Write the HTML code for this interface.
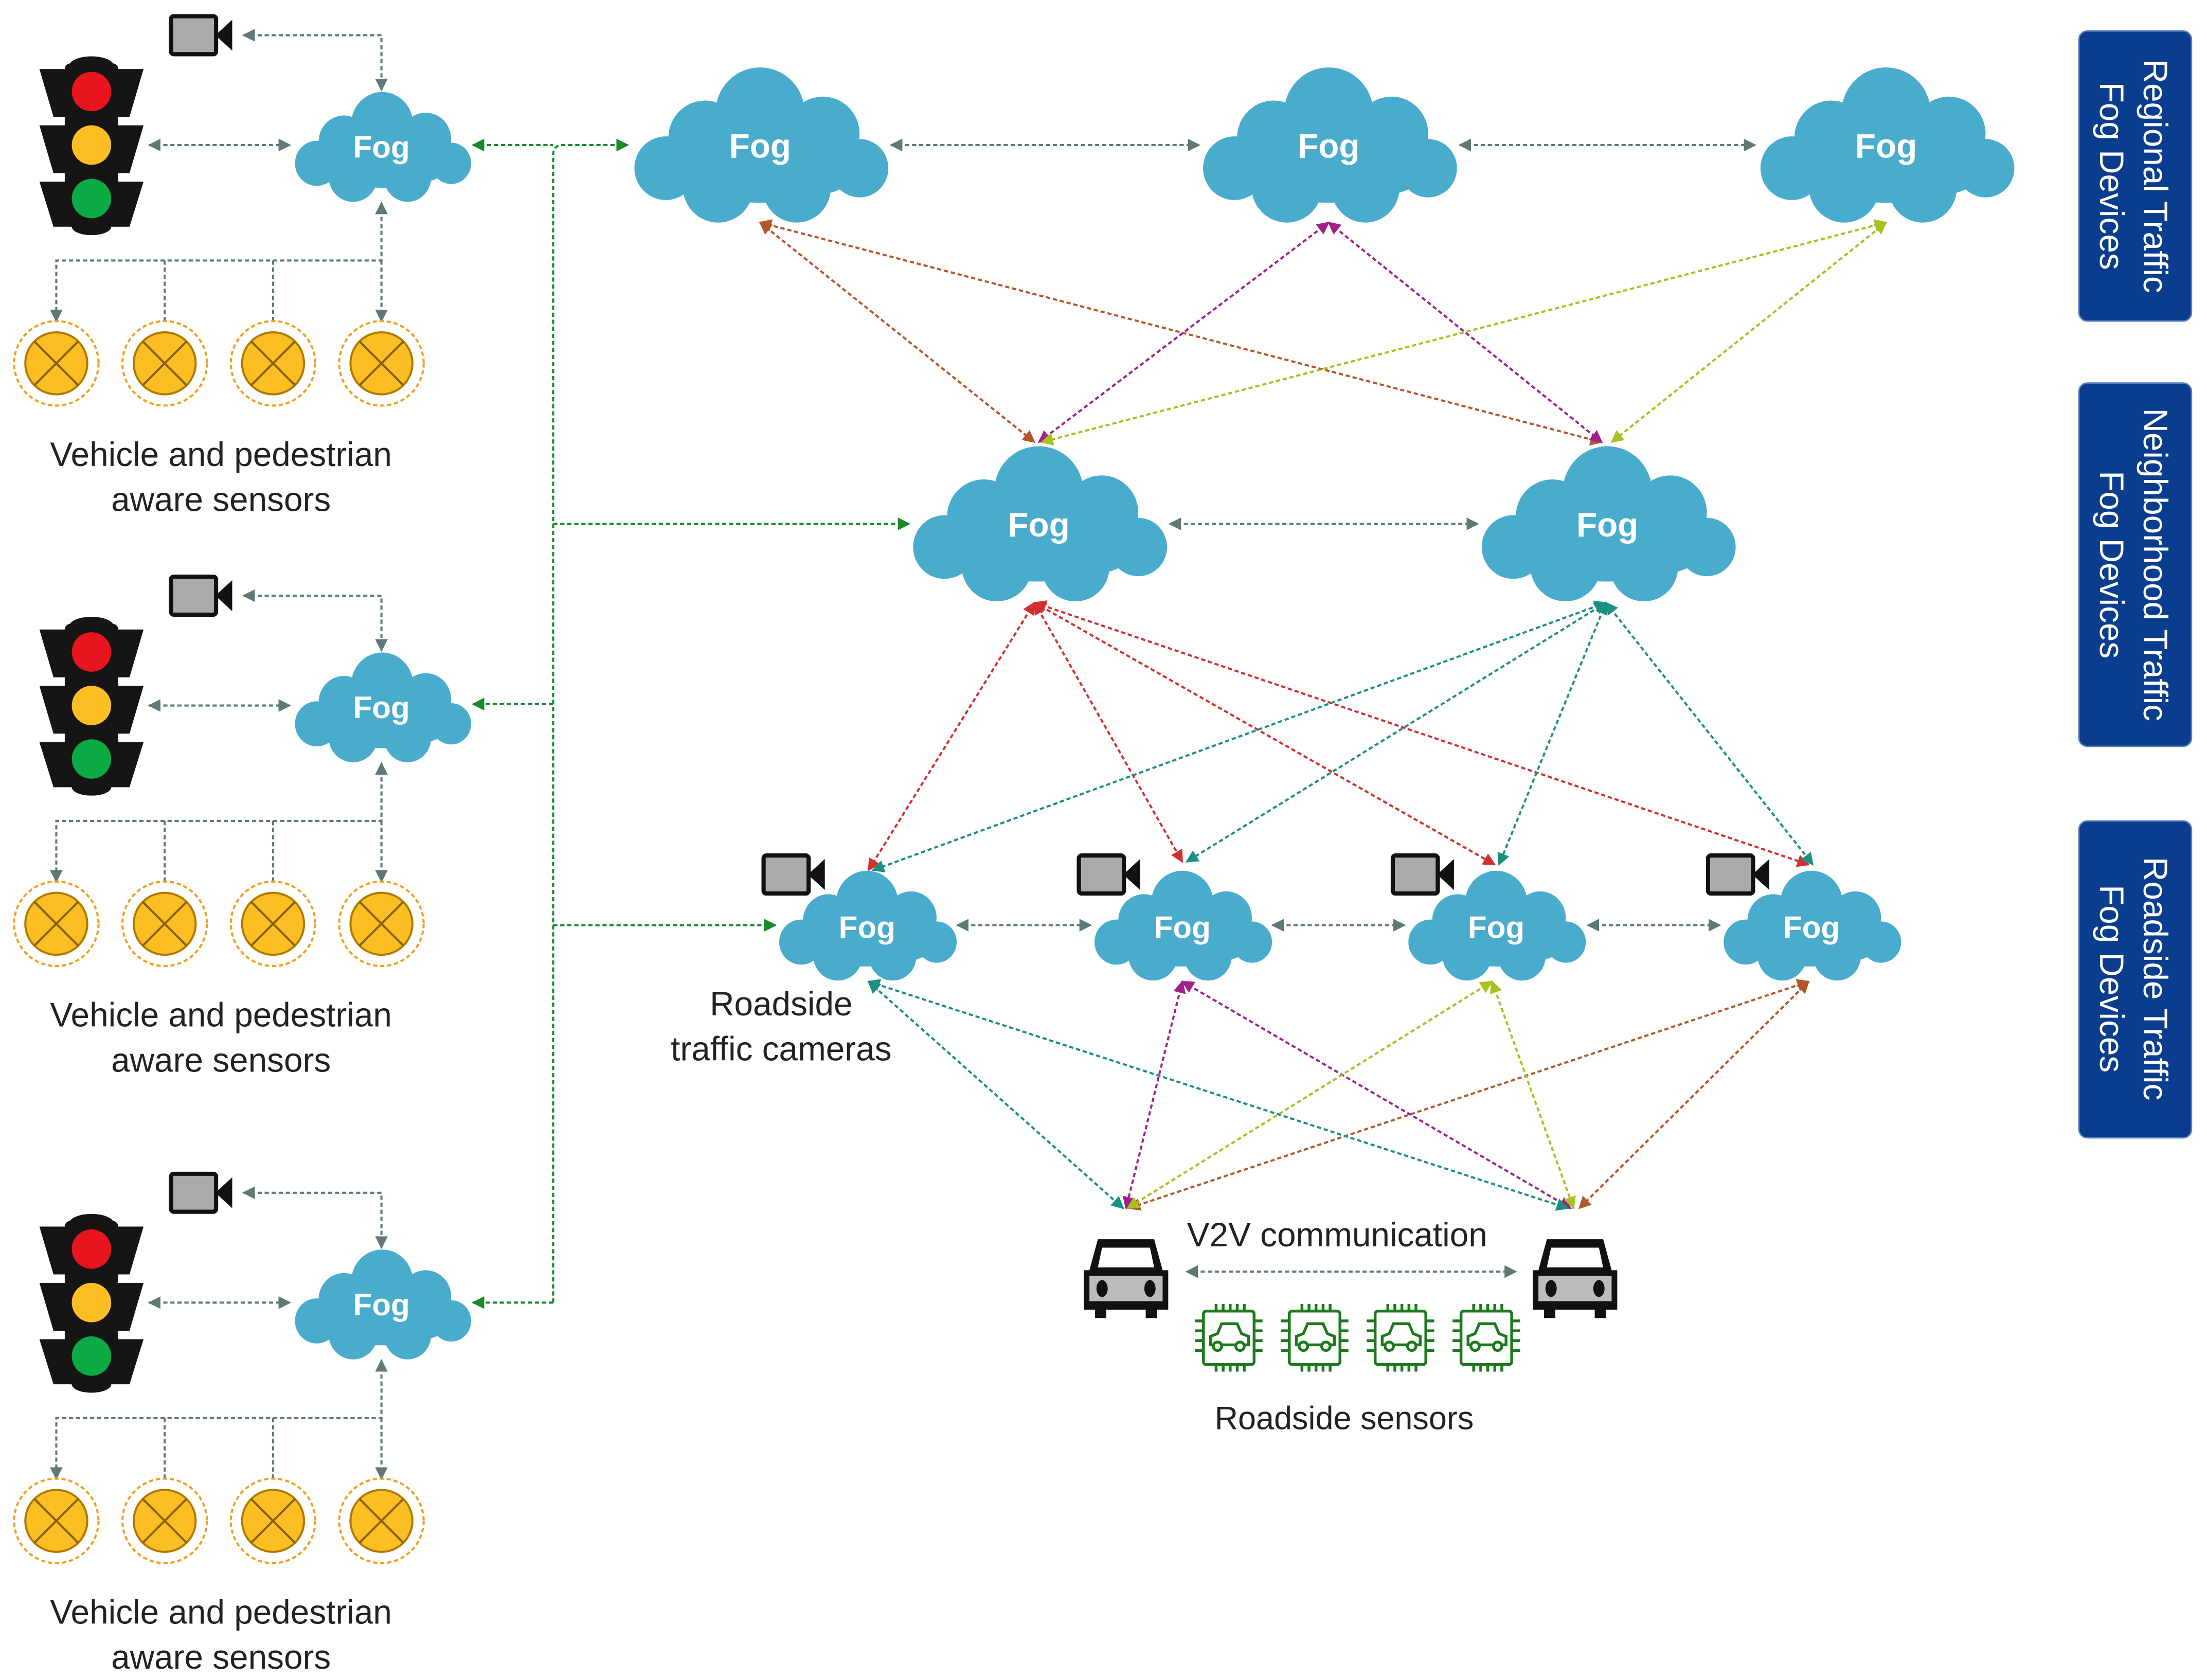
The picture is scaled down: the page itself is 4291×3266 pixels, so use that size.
<!DOCTYPE html>
<html><head><meta charset="utf-8"><style>html,body{margin:0;padding:0;background:#fff}svg{display:block}</style></head>
<body>
<svg width="4291" height="3266" viewBox="0 0 1568 1193" preserveAspectRatio="none" xmlns="http://www.w3.org/2000/svg" font-family="Liberation Sans, sans-serif">
<defs>
<symbol id="cloud" viewBox="0 0 200 120" preserveAspectRatio="none">
<g fill="#4aaccd">
<circle cx="100" cy="36" r="34"/><circle cx="58" cy="55" r="28"/><circle cx="148" cy="52" r="28"/>
<circle cx="28" cy="78" r="24"/><circle cx="176" cy="78" r="22"/><circle cx="68" cy="92" r="27"/>
<circle cx="128" cy="93" r="26"/><ellipse cx="100" cy="72" rx="84" ry="32"/></g>
</symbol>
<symbol id="cam" viewBox="0 0 46 30">
<rect x="1.5" y="1.5" width="32" height="27" rx="2" fill="#aaa" stroke="#111" stroke-width="3"/>
<polygon points="33,15 45,4 45,26" fill="#111"/>
</symbol>
<symbol id="tl" viewBox="0 0 74 128">
<g fill="#151515">
<polygon points="0,10 74,10 64,44 10,44"/><polygon points="0,50 74,50 64,84 10,84"/><polygon points="0,90 74,90 64,122 10,122"/>
<rect x="18" y="6" width="38" height="116" rx="4"/><ellipse cx="37" cy="8" rx="16" ry="7"/><ellipse cx="37" cy="122" rx="14" ry="6"/></g>
<circle cx="37" cy="26" r="14" fill="#e8141e"/><circle cx="37" cy="64" r="14" fill="#fbbf24"/><circle cx="37" cy="102" r="14" fill="#0aaa44"/>
</symbol>
<symbol id="sen" viewBox="0 0 64 64">
<circle cx="32" cy="32" r="30" fill="none" stroke="#f0a020" stroke-width="1.5" stroke-dasharray="3 2"/>
<circle cx="32" cy="32" r="22" fill="#fbbf24" stroke="#b07a00" stroke-width="1.5"/>
<path d="M16.5 16.5L47.5 47.5M47.5 16.5L16.5 47.5" stroke="#8a5f00" stroke-width="1.5"/>
</symbol>
<symbol id="car" viewBox="0 0 64 58">
<path d="M12 2H52L58 24H62V52H54V58H46V52H18V58H10V52H2V24H6Z" fill="#111"/>
<path d="M15 8H49L52 22H12Z" fill="#fff"/>
<rect x="6" y="28" width="52" height="18" fill="#bbb"/>
<ellipse cx="15" cy="37" rx="4" ry="6" fill="#111"/><ellipse cx="49" cy="37" rx="4" ry="6" fill="#111"/>
</symbol>
<symbol id="chip" viewBox="0 0 50 50">
<g stroke="#1c7a1c" stroke-width="2" fill="none">
<rect x="7" y="6" width="36" height="38" rx="2"/>
<path d="M16 1V6M21 1V6M26 1V6M31 1V6M36 1V6M16 44V49M21 44V49M26 44V49M31 44V49M36 44V49M1 13H7M1 20H7M1 27H7M1 34H7M43 13H49M43 20H49M43 27H49M43 34H49"/>
<path d="M12 30V24L17 22L20 15H31L34 22L39 24V30Z"/><circle cx="17" cy="31" r="3" fill="#fff"/><circle cx="33" cy="31" r="3" fill="#fff"/>
</g></symbol>
<marker id="mg" viewBox="0 0 10 10" refX="9" refY="5" markerWidth="9" markerHeight="9" markerUnits="userSpaceOnUse" orient="auto-start-reverse"><path d="M0 0L10 5L0 10Z" fill="#5f7878"/></marker>
<marker id="mG" viewBox="0 0 10 10" refX="9" refY="5" markerWidth="9" markerHeight="9" markerUnits="userSpaceOnUse" orient="auto-start-reverse"><path d="M0 0L10 5L0 10Z" fill="#178a2a"/></marker>
<marker id="mb" viewBox="0 0 10 10" refX="9" refY="5" markerWidth="9" markerHeight="9" markerUnits="userSpaceOnUse" orient="auto-start-reverse"><path d="M0 0L10 5L0 10Z" fill="#b5562a"/></marker>
<marker id="mm" viewBox="0 0 10 10" refX="9" refY="5" markerWidth="9" markerHeight="9" markerUnits="userSpaceOnUse" orient="auto-start-reverse"><path d="M0 0L10 5L0 10Z" fill="#a0208c"/></marker>
<marker id="my" viewBox="0 0 10 10" refX="9" refY="5" markerWidth="9" markerHeight="9" markerUnits="userSpaceOnUse" orient="auto-start-reverse"><path d="M0 0L10 5L0 10Z" fill="#a8c020"/></marker>
<marker id="mr" viewBox="0 0 10 10" refX="9" refY="5" markerWidth="9" markerHeight="9" markerUnits="userSpaceOnUse" orient="auto-start-reverse"><path d="M0 0L10 5L0 10Z" fill="#d03030"/></marker>
<marker id="mt" viewBox="0 0 10 10" refX="9" refY="5" markerWidth="9" markerHeight="9" markerUnits="userSpaceOnUse" orient="auto-start-reverse"><path d="M0 0L10 5L0 10Z" fill="#1a9080"/></marker>
<g id="grp">
<use href="#cam" x="120" y="10" width="46" height="30"/>
<use href="#tl" x="28" y="39" width="74" height="128"/>
<g stroke="#5f7878" stroke-width="1.5" stroke-dasharray="3 2" fill="none">
<path d="M173 25H271V64" marker-start="url(#mg)" marker-end="url(#mg)"/>
<path d="M106 103H206" marker-start="url(#mg)" marker-end="url(#mg)"/>
<path d="M271 144V185H40V228" marker-start="url(#mg)" marker-end="url(#mg)"/>
<path d="M117 185V228M194 185V228M271 185V228" marker-end="url(#mg)"/>
</g>
<use href="#cloud" x="207" y="64" width="129" height="80"/>
<text x="271" y="112" font-size="22" font-weight="bold" fill="#fff" text-anchor="middle">Fog</text>
<use href="#sen" x="8" y="226" width="64" height="64"/><use href="#sen" x="85" y="226" width="64" height="64"/>
<use href="#sen" x="162" y="226" width="64" height="64"/><use href="#sen" x="239" y="226" width="64" height="64"/>
<text x="157" y="331" font-size="24" fill="#222" text-anchor="middle">Vehicle and pedestrian</text>
<text x="157" y="363" font-size="24" fill="#222" text-anchor="middle">aware sensors</text>
</g>
</defs>

<use href="#grp"/><use href="#grp" y="398"/><use href="#grp" y="822"/>

<g stroke="#178a2a" stroke-width="1.5" stroke-dasharray="3 2" fill="none">
<path d="M336 103H393" marker-start="url(#mG)"/>
<path d="M393 925V110Q393 103 400 103H446" marker-end="url(#mG)"/>
<path d="M393 500H336" marker-end="url(#mG)"/>
<path d="M393 925H336" marker-end="url(#mG)"/>
<path d="M393 372H646" marker-end="url(#mG)"/>
<path d="M393 657H551" marker-end="url(#mG)"/>
</g>

<g stroke="#5f7878" stroke-width="1.5" stroke-dasharray="3 2" fill="none">
<path d="M633 103H852" marker-start="url(#mg)" marker-end="url(#mg)"/>
<path d="M1037 103H1247" marker-start="url(#mg)" marker-end="url(#mg)"/>
<path d="M831 372H1050" marker-start="url(#mg)" marker-end="url(#mg)"/>
<path d="M680 657H775" marker-start="url(#mg)" marker-end="url(#mg)"/>
<path d="M904 657H998" marker-start="url(#mg)" marker-end="url(#mg)"/>
<path d="M1128 657H1222" marker-start="url(#mg)" marker-end="url(#mg)"/>
<path d="M843 903H1077" marker-start="url(#mg)" marker-end="url(#mg)"/>
</g>

<g stroke-width="1.5" stroke-dasharray="3 2" fill="none">
<g stroke="#b5562a"><path d="M540 158L735 314" marker-start="url(#mb)" marker-end="url(#mb)"/><path d="M540 158L1138 314" marker-start="url(#mb)" marker-end="url(#mb)"/>
<path d="M1285 697L802 858" marker-start="url(#mb)" marker-end="url(#mb)"/><path d="M1285 697L1122 858" marker-start="url(#mb)" marker-end="url(#mb)"/></g>
<g stroke="#a0208c"><path d="M944 158L738 314" marker-start="url(#mm)" marker-end="url(#mm)"/><path d="M944 158L1138 314" marker-start="url(#mm)" marker-end="url(#mm)"/>
<path d="M840 697L800 858" marker-start="url(#mm)" marker-end="url(#mm)"/><path d="M840 697L1116 858" marker-start="url(#mm)" marker-end="url(#mm)"/></g>
<g stroke="#a8c020"><path d="M1340 158L740 314" marker-start="url(#my)" marker-end="url(#my)"/><path d="M1340 158L1145 314" marker-start="url(#my)" marker-end="url(#my)"/>
<path d="M1060 697L801 858" marker-start="url(#my)" marker-end="url(#my)"/><path d="M1060 697L1118 858" marker-start="url(#my)" marker-end="url(#my)"/></g>
<g stroke="#d03030"><path d="M735 428L617 618" marker-start="url(#mr)" marker-end="url(#mr)"/><path d="M735 428L840 612" marker-start="url(#mr)" marker-end="url(#mr)"/>
<path d="M735 428L1062 614" marker-start="url(#mr)" marker-end="url(#mr)"/><path d="M735 428L1285 614" marker-start="url(#mr)" marker-end="url(#mr)"/></g>
<g stroke="#1a9080"><path d="M1141 428L620 618" marker-start="url(#mt)" marker-end="url(#mt)"/><path d="M1141 428L843 612" marker-start="url(#mt)" marker-end="url(#mt)"/>
<path d="M1141 428L1065 614" marker-start="url(#mt)" marker-end="url(#mt)"/><path d="M1141 428L1288 614" marker-start="url(#mt)" marker-end="url(#mt)"/>
<path d="M617 697L798 858" marker-start="url(#mt)" marker-end="url(#mt)"/><path d="M617 697L1114 858" marker-start="url(#mt)" marker-end="url(#mt)"/></g>
</g>

<g font-size="24" font-weight="bold" fill="#fff" text-anchor="middle">
<use href="#cloud" x="447" y="46" width="186" height="113"/><text x="540" y="112">Fog</text>
<use href="#cloud" x="851" y="46" width="186" height="113"/><text x="944" y="112">Fog</text>
<use href="#cloud" x="1247" y="46" width="186" height="113"/><text x="1340" y="112">Fog</text>
<use href="#cloud" x="645" y="315" width="186" height="113"/><text x="738" y="381">Fog</text>
<use href="#cloud" x="1049" y="315" width="186" height="113"/><text x="1142" y="381">Fog</text>
</g>
<g font-size="22" font-weight="bold" fill="#fff" text-anchor="middle">
<use href="#cloud" x="551" y="617" width="130" height="80"/><text x="616" y="666">Fog</text>
<use href="#cloud" x="775" y="617" width="130" height="80"/><text x="840" y="666">Fog</text>
<use href="#cloud" x="998" y="617" width="130" height="80"/><text x="1063" y="666">Fog</text>
<use href="#cloud" x="1222" y="617" width="130" height="80"/><text x="1287" y="666">Fog</text>
</g>
<use href="#cam" x="541" y="606" width="46" height="30"/><use href="#cam" x="765" y="606" width="46" height="30"/>
<use href="#cam" x="988" y="606" width="46" height="30"/><use href="#cam" x="1212" y="606" width="46" height="30"/>
<text x="555" y="721" font-size="24" fill="#222" text-anchor="middle">Roadside</text>
<text x="555" y="753" font-size="24" fill="#222" text-anchor="middle">traffic cameras</text>

<use href="#car" x="768" y="878" width="64" height="58"/><use href="#car" x="1087" y="878" width="64" height="58"/>
<text x="950" y="885" font-size="24" fill="#222" text-anchor="middle">V2V communication</text>
<use href="#chip" x="848" y="925" width="50" height="50"/><use href="#chip" x="909" y="925" width="50" height="50"/>
<use href="#chip" x="970" y="925" width="50" height="50"/><use href="#chip" x="1031" y="925" width="50" height="50"/>
<text x="955" y="1015" font-size="23" fill="#222" text-anchor="middle">Roadside sensors</text>

<g fill="#0b3d8e" stroke="#5a7fbf" stroke-width="1">
<rect x="1477" y="22" width="80" height="206" rx="6"/>
<rect x="1477" y="272" width="80" height="258" rx="6"/>
<rect x="1477" y="583" width="80" height="225" rx="6"/>
</g>
<g font-size="24" fill="#fff" text-anchor="middle">
<g transform="translate(1517 125) rotate(90)"><text x="0" y="-6">Regional Traffic</text><text x="0" y="25">Fog Devices</text></g>
<g transform="translate(1517 401) rotate(90)"><text x="0" y="-6">Neighborhood Traffic</text><text x="0" y="25">Fog Devices</text></g>
<g transform="translate(1517 695) rotate(90)"><text x="0" y="-6">Roadside Traffic</text><text x="0" y="25">Fog Devices</text></g>
</g>
</svg>
</body></html>
